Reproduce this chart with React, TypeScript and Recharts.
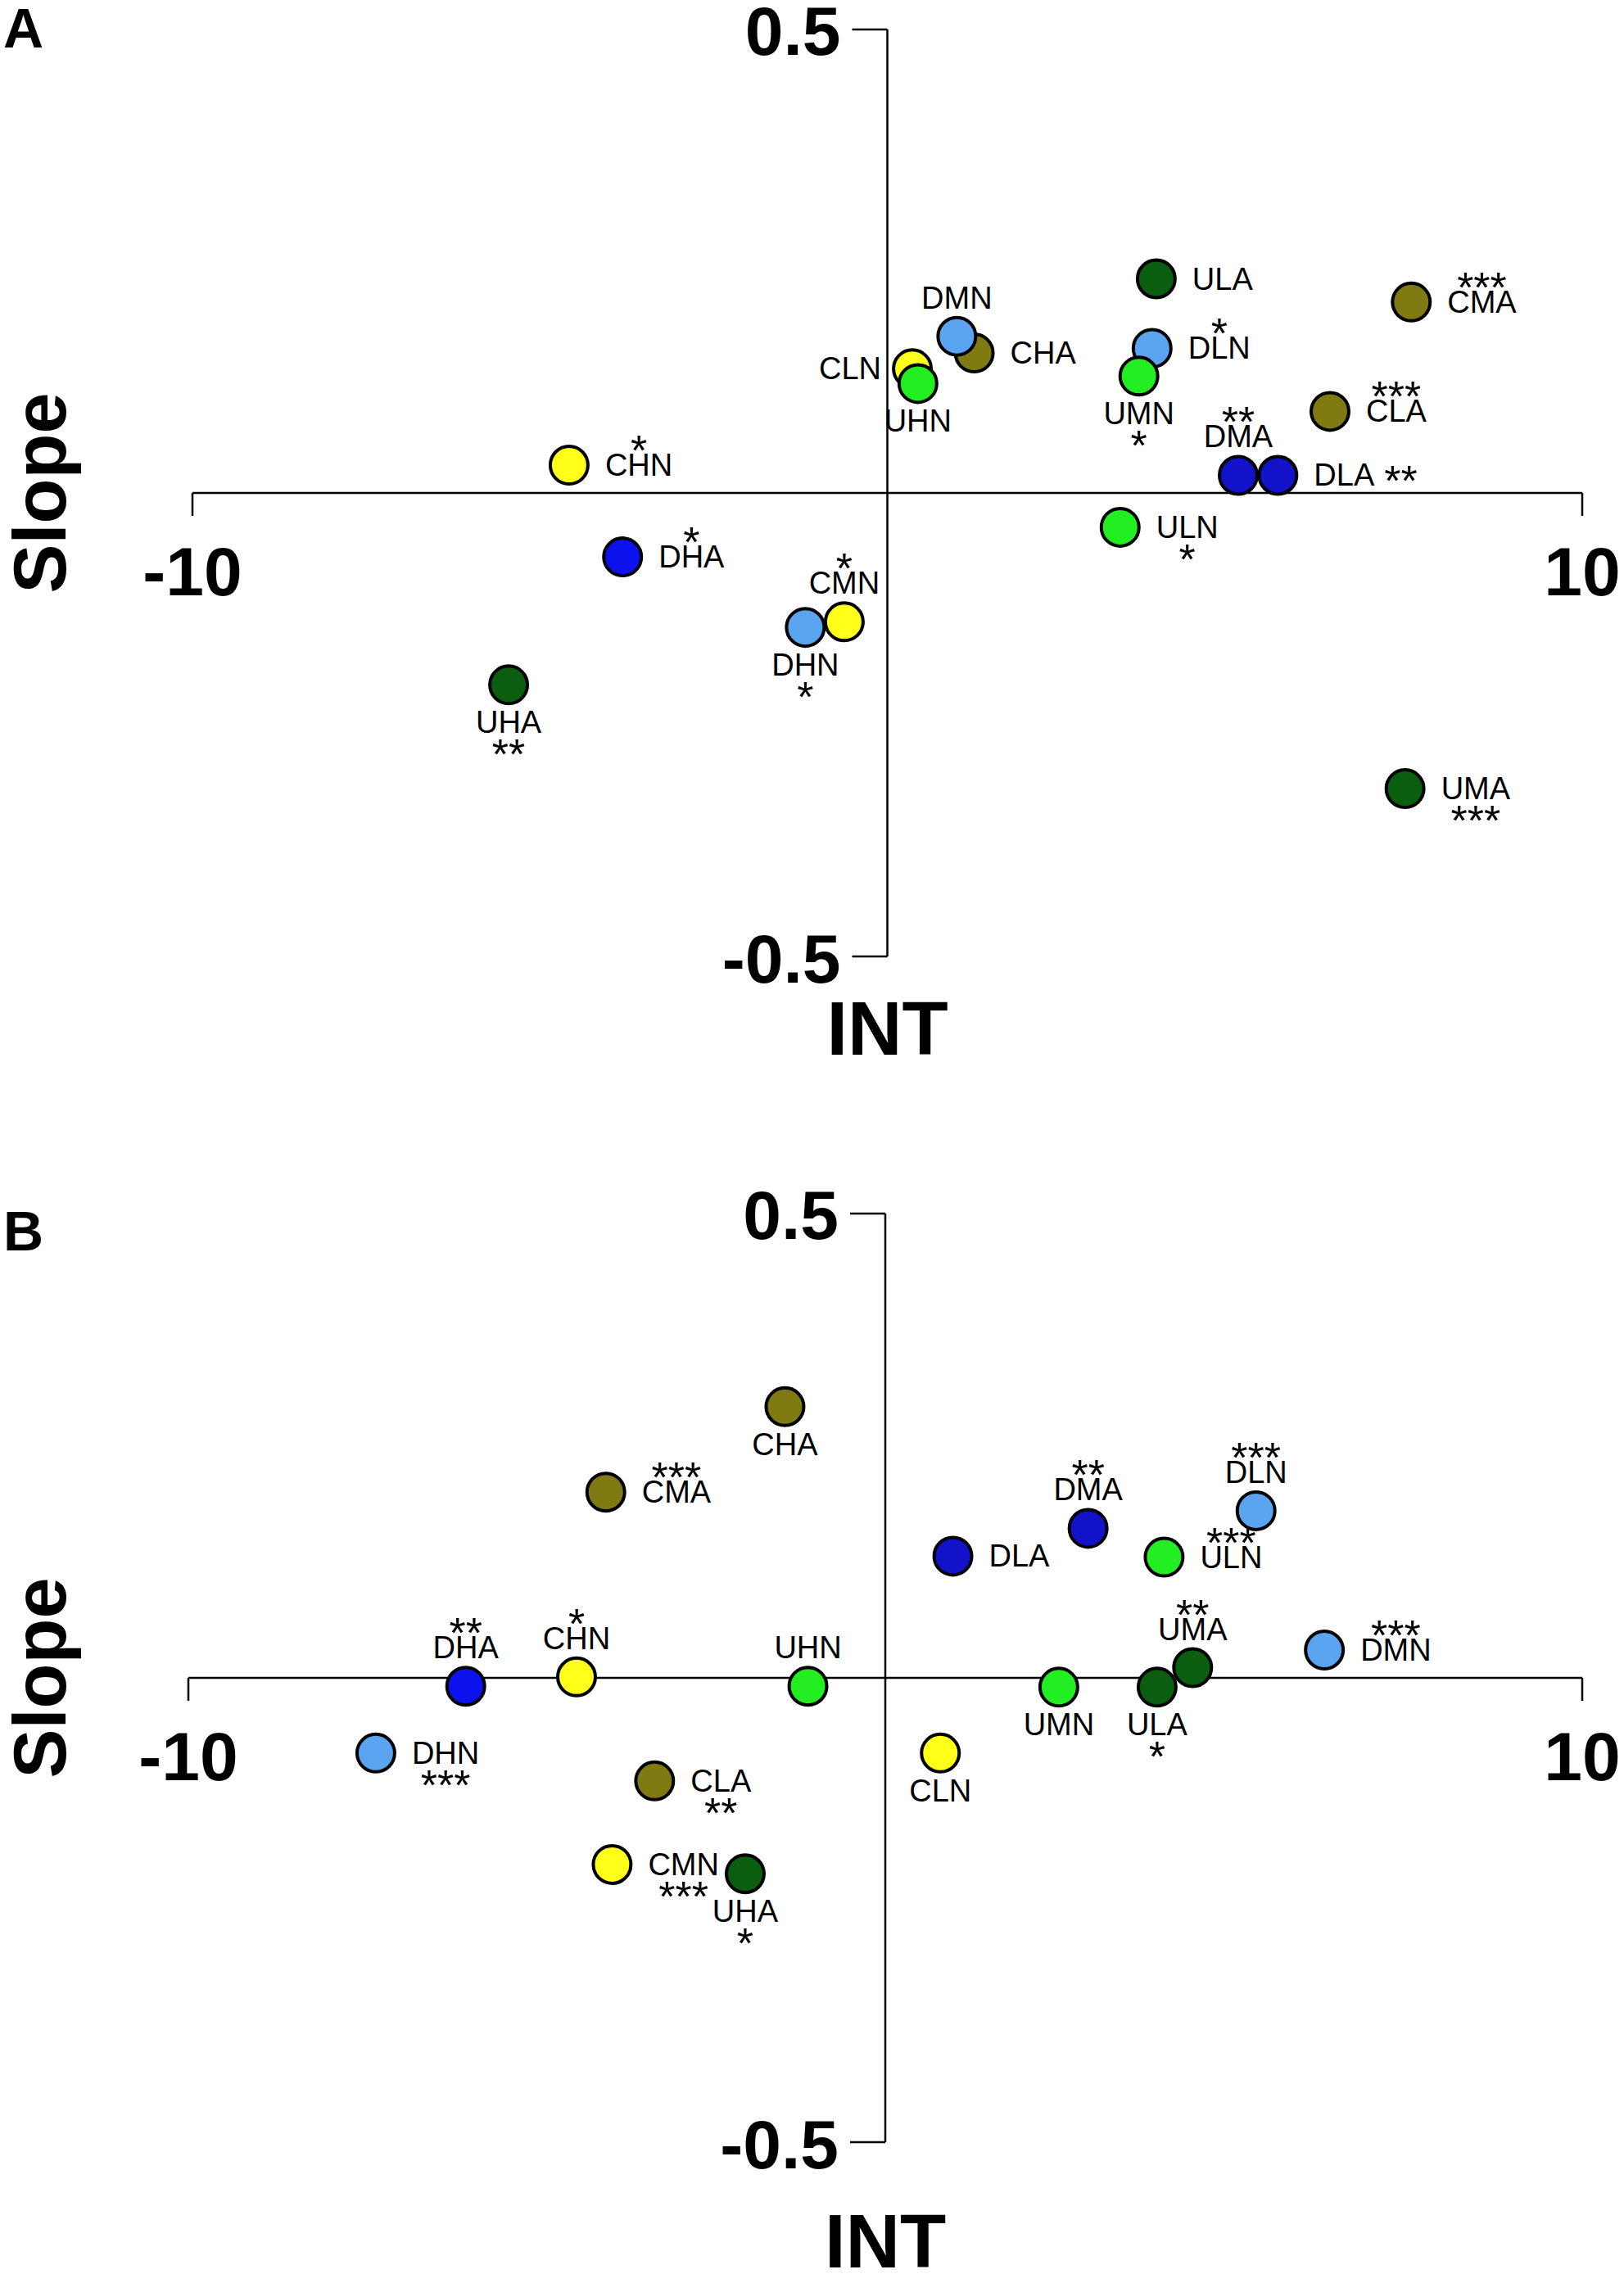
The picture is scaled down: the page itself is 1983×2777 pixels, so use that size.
import React from 'react';
import { ReferenceLine, Scatter, ScatterChart, XAxis, YAxis } from 'recharts';

// Panel A
const namesA = ['ULA', 'CMA', 'CHA', 'DMN', 'DLN', 'UMN', 'CLN', 'UHN', 'CLA', 'CHN', 'DMA', 'DLA', 'ULN', 'DHA', 'DHN', 'CMN', 'UHA', 'UMA'];
const intA = [3.87, 7.54, 1.25, 1.0, 3.81, 3.62, 0.36, 0.44, 6.37, -4.58, 5.05, 5.62, 3.35, -3.81, -1.18, -0.62, -5.45, 7.45];
const slopeA = [0.231, 0.206, 0.151, 0.169, 0.156, 0.126, 0.134, 0.118, 0.088, 0.03, 0.019, 0.019, -0.037, -0.069, -0.145, -0.139, -0.207, -0.319];
const starsA = ['', '***', '', '', '*', '*', '', '', '***', '*', '**', '**', '*', '*', '*', '*', '**', '***'];
const labelSideA = ['right', 'right', 'right', 'top', 'right', 'bottom', 'left', 'bottom', 'right', 'right', 'top', 'right', 'right', 'right', 'bottom', 'top', 'bottom', 'right'];
const starSideA = ['', 'above', '', '', 'above', 'below', '', '', 'above', 'above', 'above', 'after', 'below', 'above', 'below', 'above', 'below', 'below'];

// Panel B
const namesB = ['CHA', 'CMA', 'DMA', 'DLN', 'DLA', 'ULN', 'DMN', 'ULA', 'UMA', 'DHA', 'CHN', 'UHN', 'UMN', 'DHN', 'CLN', 'CLA', 'CMN', 'UHA'];
const intB = [-1.44, -4.01, 2.91, 5.32, 0.97, 4.0, 6.3, 3.9, 4.41, -6.02, -4.43, -1.11, 2.49, -7.31, 0.79, -3.31, -3.92, -2.01];
const slopeB = [0.292, 0.2, 0.161, 0.18, 0.131, 0.13, 0.03, -0.01, 0.011, -0.009, 0.001, -0.009, -0.01, -0.081, -0.081, -0.111, -0.201, -0.211];
const starsB = ['', '***', '**', '***', '', '***', '***', '*', '**', '**', '*', '', '', '***', '', '**', '***', '*'];
const labelSideB = ['bottom', 'right', 'top', 'top', 'right', 'right', 'right', 'bottom', 'top', 'top', 'top', 'top', 'bottom', 'right', 'bottom', 'right', 'right', 'bottom'];
const starSideB = ['', 'above', 'above', 'above', '', 'above', 'above', 'below', 'above', 'above', 'above', '', '', 'below', '', 'below', 'below', 'below'];

const xTicks = ['-10', '10'];
const yTicks = ['0.5', '-0.5'];

const groupColors: Record<string, string> = {
  CN: '#ffff1a',
  CA: '#807a12',
  DN: '#5ba4f0',
  DA: '#1212c8',
  UN: '#22ee22',
  UA: '#0b5e10',
};
const colorOverride: Record<string, string> = { DHA: '#0b12ee' };
const colorOf = (name: string) => colorOverride[name] ?? groupColors[name[0] + name[2]];

const FONT = '"Liberation Sans", Arial, Helvetica, sans-serif';
const LABEL_FS = 38;
const STAR_FS = 52;
const CHAR_W: Record<string, number> = { A: 0.667, C: 0.722, D: 0.722, H: 0.722, L: 0.556, M: 0.833, N: 0.722, U: 0.722 };
const textWidth = (s: string, fs: number) => s.split('').reduce((w, c) => w + (CHAR_W[c] ?? 0.6) * fs, 0);

const toRows = (names: string[], xs: number[], ys: number[], stars: string[], sides: string[], starSides: string[]) =>
  names.map((name, i) => ({ name, x: xs[i], y: ys[i], stars: stars[i], side: sides[i], starSide: starSides[i] }));

function PointMark(props: any) {
  const { cx, cy, payload } = props;
  return <circle cx={cx} cy={cy} r={23} fill={colorOf(payload.name)} stroke="#000" strokeWidth={4} />;
}

function PointLabel(props: any) {
  const { cx, cy, payload } = props;
  const { name, stars, side, starSide } = payload;
  const w = textWidth(name, LABEL_FS);
  let left = cx - w / 2;
  let base = cy + 13;
  if (side === 'right') left = cx + 44;
  else if (side === 'left') left = cx - 38 - w;
  else if (side === 'top') base = cy - 34;
  else if (side === 'bottom') base = cy + 59;
  const mid = left + w / 2;
  let star = null;
  if (stars) {
    if (starSide === 'above') {
      star = (
        <text x={mid} y={base - 13} textAnchor="middle" fontSize={STAR_FS} fontFamily={FONT}>
          {stars}
        </text>
      );
    } else if (starSide === 'below') {
      star = (
        <text x={mid} y={base + 44} textAnchor="middle" fontSize={STAR_FS} fontFamily={FONT}>
          {stars}
        </text>
      );
    } else {
      star = (
        <text x={left + w + 12} y={base + 12} fontSize={STAR_FS} fontFamily={FONT}>
          {stars}
        </text>
      );
    }
  }
  return (
    <g>
      <text x={left} y={base} fontSize={LABEL_FS} fontFamily={FONT} fill="#000">
        {name}
      </text>
      {star}
    </g>
  );
}

function HorizontalAxis(props: any, letter: string, letterY: number) {
  const { x1, x2, y1 } = props;
  return (
    <g>
      <line x1={x1} y1={y1} x2={x2} y2={y1} stroke="#000" strokeWidth={2.5} />
      <line x1={x1} y1={y1} x2={x1} y2={y1 + 28} stroke="#000" strokeWidth={2.5} />
      <line x1={x2} y1={y1} x2={x2} y2={y1 + 28} stroke="#000" strokeWidth={2.5} />
      <text x={x1} y={y1 + 125} textAnchor="middle" fontSize={84} fontWeight="bold" fontFamily={FONT}>
        {xTicks[0]}
      </text>
      <text x={x2} y={y1 + 125} textAnchor="middle" fontSize={84} fontWeight="bold" fontFamily={FONT}>
        {xTicks[1]}
      </text>
      <text
        transform={`translate(80, ${y1}) rotate(-90)`}
        textAnchor="middle"
        fontSize={90}
        fontWeight="bold"
        fontFamily={FONT}
      >
        Slope
      </text>
      <text x={4} y={letterY} fontSize={68} fontWeight="bold" fontFamily={FONT}>
        {letter}
      </text>
    </g>
  );
}

function VerticalAxis(props: any, intOffset: number) {
  const { x1, y1, y2 } = props;
  const top = Math.min(y1, y2);
  const bottom = Math.max(y1, y2);
  return (
    <g>
      <line x1={x1} y1={top} x2={x1} y2={bottom} stroke="#000" strokeWidth={2.5} />
      <line x1={x1 - 43} y1={top} x2={x1} y2={top} stroke="#000" strokeWidth={2.5} />
      <line x1={x1 - 43} y1={bottom} x2={x1} y2={bottom} stroke="#000" strokeWidth={2.5} />
      <text x={x1 - 57} y={top + 31} textAnchor="end" fontSize={84} fontWeight="bold" fontFamily={FONT}>
        {yTicks[0]}
      </text>
      <text x={x1 - 57} y={bottom + 32} textAnchor="end" fontSize={84} fontWeight="bold" fontFamily={FONT}>
        {yTicks[1]}
      </text>
      <text x={x1} y={bottom + intOffset} textAnchor="middle" fontSize={92} fontWeight="bold" fontFamily={FONT}>
        INT
      </text>
    </g>
  );
}

interface PanelProps {
  rows: ReturnType<typeof toRows>;
  height: number;
  margin: { top: number; right: number; bottom: number; left: number };
  letter: string;
  letterY: number;
  intOffset: number;
}

function Panel({ rows, height, margin, letter, letterY, intOffset }: PanelProps) {
  return (
    <ScatterChart width={1983} height={height} margin={margin}>
      <XAxis type="number" dataKey="x" domain={[-10, 10]} allowDataOverflow hide />
      <YAxis type="number" dataKey="y" domain={[-0.5, 0.5]} allowDataOverflow hide />
      <ReferenceLine y={0} shape={(p: any) => HorizontalAxis(p, letter, letterY)} />
      <ReferenceLine x={0} shape={(p: any) => VerticalAxis(p, intOffset)} />
      <Scatter data={rows} shape={PointMark} isAnimationActive={false} />
      <Scatter data={rows} shape={PointLabel} isAnimationActive={false} />
    </ScatterChart>
  );
}

const rowsA = toRows(namesA, intA, slopeA, starsA, labelSideA, starSideA);
const rowsB = toRows(namesB, intB, slopeB, starsB, labelSideB, starSideB);

export default function App() {
  return (
    <div style={{ width: 1983, height: 2777, background: '#fff' }}>
      <style>{'body{margin:0}'}</style>
      <Panel
        rows={rowsA}
        height={1400}
        margin={{ top: 36, right: 51, bottom: 232, left: 235 }}
        letter="A"
        letterY={58}
        intOffset={120}
      />
      <Panel
        rows={rowsB}
        height={1377}
        margin={{ top: 82, right: 51, bottom: 161, left: 230 }}
        letter="B"
        letterY={127}
        intOffset={153}
      />
    </div>
  );
}
